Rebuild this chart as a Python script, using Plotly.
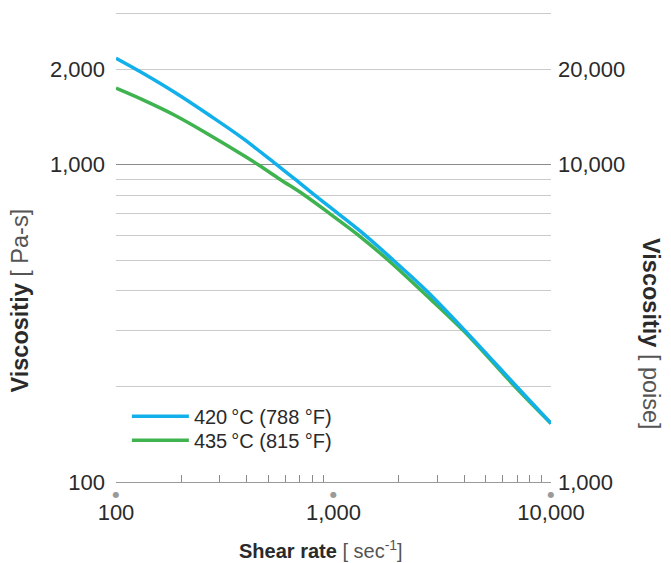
import math
import plotly.graph_objects as go

# ---- data ----
shear_420 = [100, 133, 189, 269, 383, 548, 665, 822, 1054, 1396, 1884, 2683, 4024, 6950, 10000]
visc_420 = [2164, 1941, 1679, 1431, 1210, 1000, 900, 800, 700, 600, 500, 400, 300, 200, 153]

shear_435 = [100, 133, 189, 269, 383, 451, 567, 739, 964, 1300, 1786, 2544, 3954, 6823, 10000]
visc_435 = [1742, 1600, 1424, 1241, 1073, 1000, 900, 800, 700, 600, 500, 400, 300, 200, 153]

series_names = ["420\u2009°C (788 °F)", "435\u2009°C (815 °F)"]
series_colors = ["#12b0ea", "#3fb34f"]

x_tickvals = [100, 1000, 10000]
x_ticktext = ["100", "1,000", "10,000"]
x_minor_vals = [200, 300, 400, 500, 600, 700, 800, 900, 2000, 3000, 4000, 5000, 6000, 7000, 8000, 9000]

y_grid_vals = [100, 200, 300, 400, 500, 600, 700, 800, 900, 1000, 2000, 3000]
y_grid_text = ["100", " ", " ", " ", " ", " ", " ", " ", " ", "1,000", "2,000", " "]
y_right_vals = [100, 1000, 2000]
y_right_text = ["1,000", "10,000", "20,000"]
y_dark_vals = [1000]

FONT = "Liberation Sans, Arial, sans-serif"
TXT = "#2a2a2a"
# plot height 471 px at 317.3 px per decade
y_range = [2, 2 + 471 / 317.3]
x_range = [2, 4]

# the page body has an 8px margin: figure is sized so the plot lands where the reference has it
fig = go.Figure()
fig.add_trace(go.Scatter(x=shear_435, y=visc_435, mode="lines", name=series_names[1],
                         legend="legend2",
                         line=dict(color=series_colors[1], width=3.5, shape="spline", smoothing=1.0)))
fig.add_trace(go.Scatter(x=shear_420, y=visc_420, mode="lines", name=series_names[0],
                         legend="legend",
                         line=dict(color=series_colors[0], width=3.5, shape="spline", smoothing=1.0)))
# helper traces so the overlay axes exist (no visible marks)
fig.add_trace(go.Scatter(x=[], y=[], yaxis="y2", showlegend=False, hoverinfo="skip"))
fig.add_trace(go.Scatter(x=[], y=[], yaxis="y3", showlegend=False, hoverinfo="skip"))
fig.add_trace(go.Scatter(x=[], y=[], xaxis="x2", showlegend=False, hoverinfo="skip"))

leg_common = dict(xanchor="left", yanchor="top", bgcolor="rgba(0,0,0,0)",
                  itemwidth=57, font=dict(size=20, color=TXT))

fig.update_layout(
    width=663, height=555,
    margin=dict(l=108, r=120, t=3, b=81),
    paper_bgcolor="white", plot_bgcolor="white",
    font=dict(family=FONT, size=20, color=TXT),
    showlegend=True,
    legend=dict(x=0.025, y=0.181, **leg_common),
    legend2=dict(x=0.025, y=0.130, **leg_common),
    xaxis=dict(type="log", range=x_range, tickvals=x_tickvals, ticktext=x_ticktext,
               ticks="", showgrid=False, zeroline=False,
               showline=True, linecolor="#9a9a9a", linewidth=1,
               ticklabelstandoff=11, tickfont=dict(size=22),
               minor=dict(tickvals=x_minor_vals, ticks="inside", ticklen=7,
                          tickcolor="#8a8a8a", tickwidth=1, showgrid=False)),
    xaxis2=dict(type="log", range=x_range, overlaying="x", side="bottom",
                tickvals=x_tickvals, ticktext=["\u25CF"] * 3, ticks="", showgrid=False,
                showline=False, zeroline=False, ticklabelstandoff=6,
                tickfont=dict(family="DejaVu Sans", size=8, color="#9a9a9a")),
    yaxis=dict(type="log", range=y_range, tickvals=y_grid_vals, ticktext=y_grid_text,
               ticks="", showgrid=True, gridcolor="#cacaca", gridwidth=1,
               zeroline=False, showline=False, ticklabelstandoff=10, tickfont=dict(size=22)),
    yaxis2=dict(type="log", range=y_range, overlaying="y", side="right",
                tickvals=y_right_vals, ticktext=y_right_text, ticks="", tickfont=dict(size=22),
                showgrid=False, zeroline=False, showline=False, ticklabelstandoff=6),
    yaxis3=dict(type="log", range=y_range, overlaying="y", side="left",
                tickvals=y_dark_vals, showticklabels=False, ticks="",
                showgrid=True, gridcolor="#8c8c8c", gridwidth=1,
                zeroline=False, showline=False),
    annotations=[
        dict(text="<b>Shear rate</b> <span style='color:#555'>[ sec<sup>-1</sup>]</span>",
             x=(321 - 116) / 435, xref="paper", y=-0.143, yref="paper", showarrow=False,
             xanchor="center", yanchor="middle", font=dict(size=20, color=TXT)),
        dict(text="<b>Viscositiy</b> <span style='color:#555'>[ Pa-s]</span>",
             x=-0.221, xref="paper", y=0.385, yref="paper", showarrow=False, textangle=-90,
             xanchor="center", yanchor="middle", font=dict(size=23.5, color=TXT)),
        dict(text="<b>Viscositiy</b> <span style='color:#555'>[ poise]</span>",
             x=1.23, xref="paper", y=0.314, yref="paper", showarrow=False, textangle=90,
             xanchor="center", yanchor="middle", font=dict(size=23.5, color=TXT)),
    ],
)

fig.write_html("out.html")
